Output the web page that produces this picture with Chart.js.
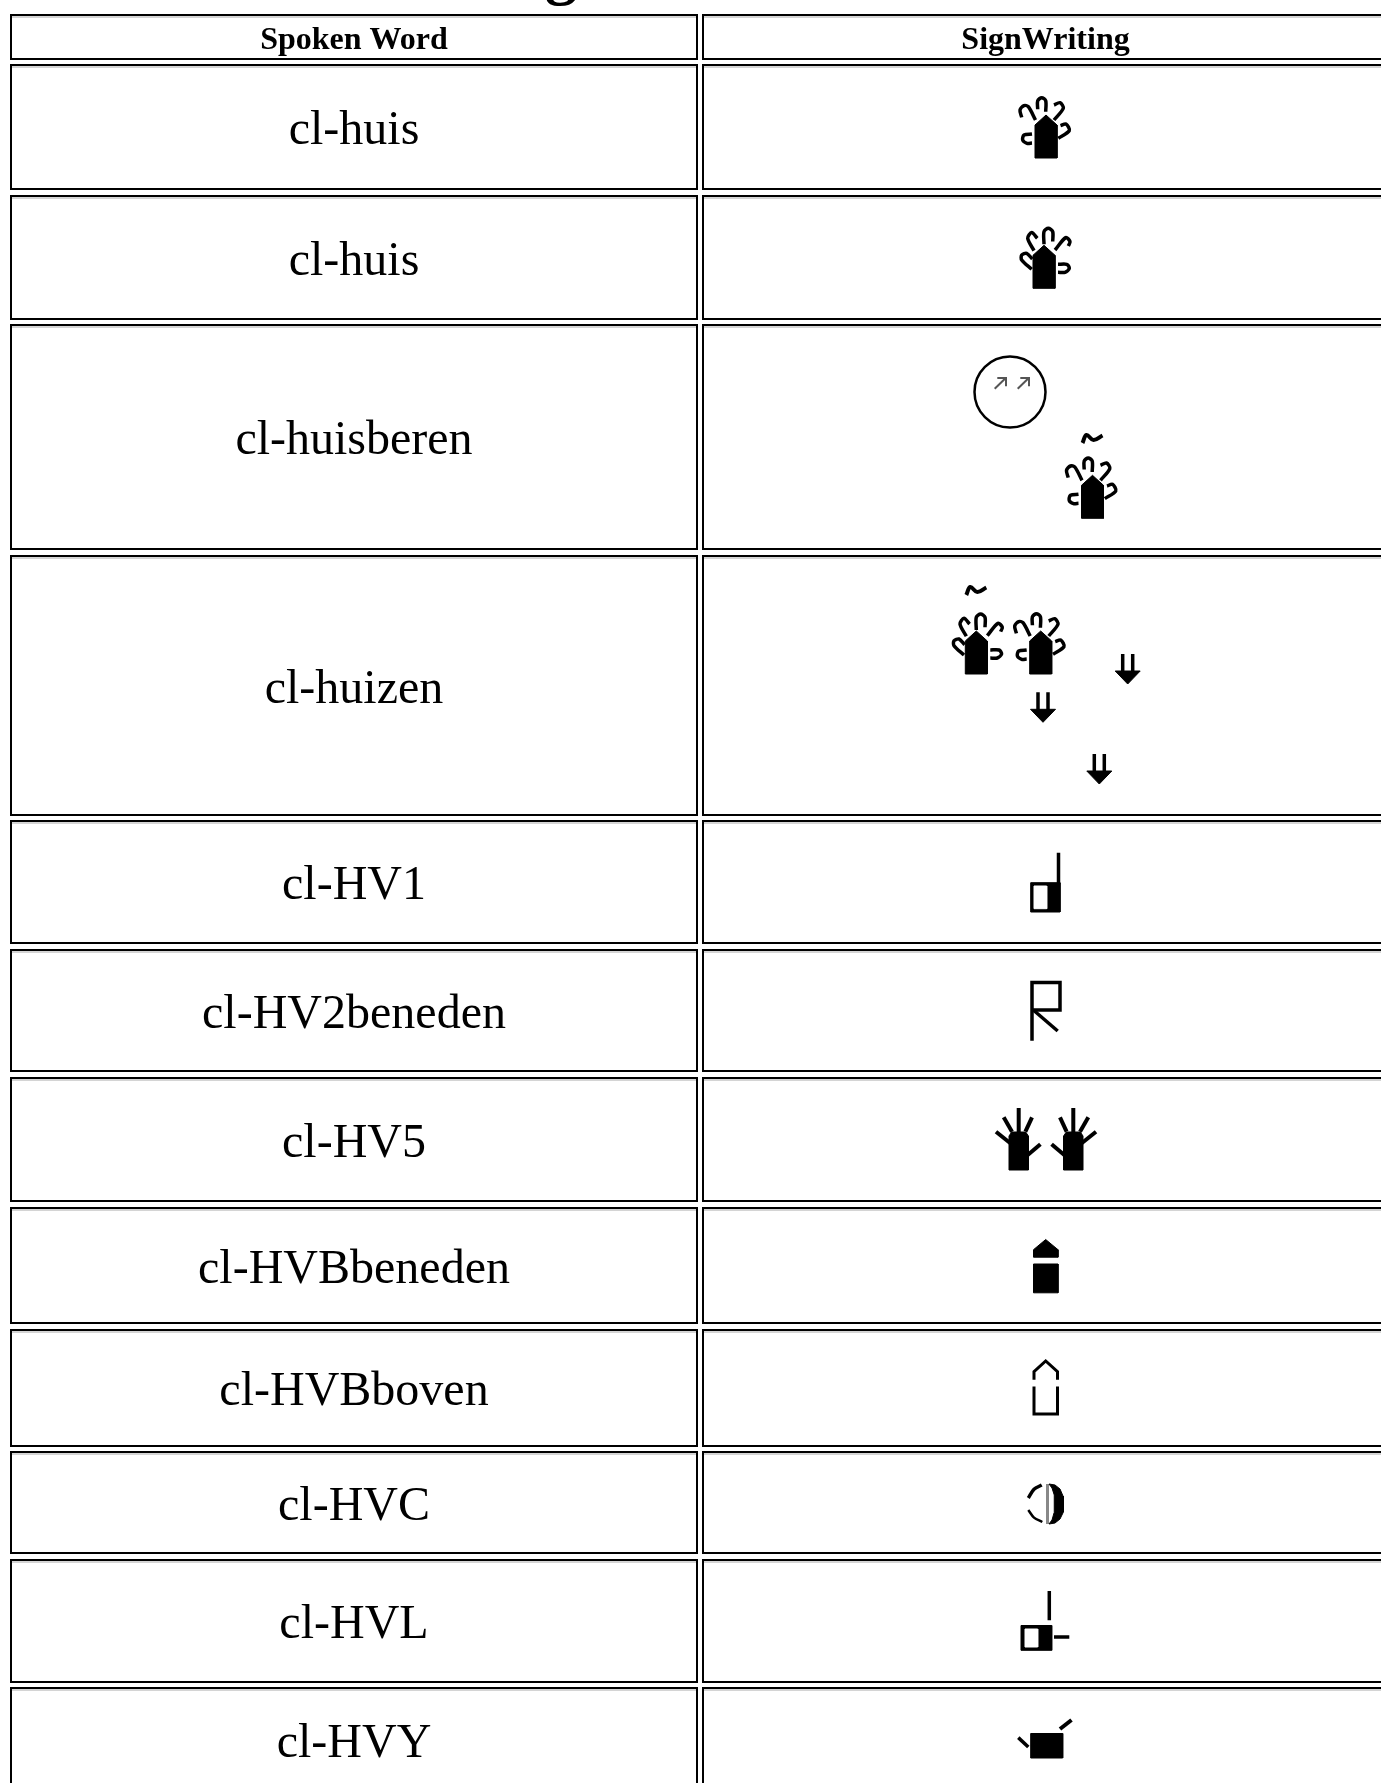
<!DOCTYPE html>
<html>
<head>
<meta charset="utf-8">
<title>SignWriting</title>
<style>
  html, body { margin: 0; padding: 0; background: #fff; overflow: hidden; }
  canvas { display: block; }
</style>
<script src="https://cdn.jsdelivr.net/npm/chart.js@4/dist/chart.umd.min.js"></script>
</head>
<body>
<canvas id="tableChart" width="1381" height="1783"></canvas>
<script>
// table content
const columnHeaders = ["Spoken Word", "SignWriting"];
const spokenWords = ["cl-huis", "cl-huis", "cl-huisberen", "cl-huizen", "cl-HV1", "cl-HV2beneden", "cl-HV5", "cl-HVBbeneden", "cl-HVBboven", "cl-HVC", "cl-HVL", "cl-HVY"];
const rowTops = [15, 65, 196, 325, 556, 821, 950, 1078, 1208, 1330, 1452, 1560, 1688];
const rowBottoms = [59, 189, 319, 549, 815, 943, 1071, 1201, 1323, 1446, 1553, 1682, 1792];
const columnLefts = [11, 703];
const columnRights = [697, 1395];

const BLACK = "#000";
const datasets = [];

function pts(list, ox, oy, flip) {
    return list.map(function (p) {
        return { x: (ox || 0) + (flip ? -p[0] : p[0]), y: (oy || 0) + p[1] };
    });
}

function stroke(list, width, opts) {
    opts = opts || {};
    datasets.push({
        data: pts(list, opts.ox, opts.oy, opts.flip),
        showLine: true,
        borderColor: opts.color || BLACK,
        borderWidth: width,
        borderCapStyle: "butt",
        borderJoinStyle: "miter",
        tension: opts.tension || 0,
        pointRadius: 0,
        fill: false
    });
}

function filled(list, color, opts) {
    opts = opts || {};
    datasets.push({
        data: pts(list.concat([list[0]]), opts.ox, opts.oy, opts.flip),
        showLine: true,
        borderColor: color,
        borderWidth: 1,
        backgroundColor: color,
        tension: 0,
        pointRadius: 0,
        fill: "shape"
    });
}

// table cells
rowTops.forEach(function (top, i) {
    const bottom = rowBottoms[i];
    columnLefts.forEach(function (left, c) {
        const right = columnRights[c];
        stroke([[left + 1, top + 2], [right - 1, top + 2]], 1, { color: "#aaa" });
        stroke([[left, top], [right, top], [right, bottom], [left, bottom], [left, top - 1]], 2);
    });
});

// shapes of the glyphs, origin at the bottom centre of the palm
const palm = [[-11, 0], [-11, -33], [0, -43], [11, -33], [11, 0]];
const handACurls = [
    [[-10.5, -38], [-17.7, -51.3], [-22, -52.3], [-26, -48], [-24.3, -40.7]],
    [[-0.3, -46.3], [-0.3, -57.3], [-4.3, -60.3], [-8.3, -57.3], [-8.3, -48.7]],
    [[8, -38], [17.3, -49.7], [14, -55.3], [8, -53]],
    [[12.3, -19.7], [23.3, -27.3], [20, -34], [14.5, -32.3]],
    [[-14, -24], [-22, -23], [-23.3, -18], [-19, -14.7], [-14, -15]]
];
const handBCurls = [
    [[-10, -37.7], [-16.3, -50], [-12.3, -55.7], [-6.7, -50]],
    [[0, -44], [0, -56.7], [4.3, -60], [8.7, -56.7], [8.7, -46.7]],
    [[11, -38.3], [21.7, -50.7], [26, -46.7], [24.3, -42.3]],
    [[-12.3, -19], [-22.3, -28.3], [-22.3, -33.3], [-17.3, -35], [-11.7, -29.3]],
    [[14, -24], [22.7, -24], [25.3, -20], [21, -16], [14, -16]]
];
const openHand = [
    [[0, -62], [0, -36]],
    [[-15, -52.7], [-6.7, -38.3]],
    [[13.3, -52.7], [6.7, -38.3]],
    [[-22.7, -38.3], [-8.3, -26.7]],
    [[21.7, -25.7], [9, -15]]
];
const openPalm = [[-9.7, 0], [-9.7, -34], [-7, -38], [7, -38], [9.7, -34], [9.7, 0]];
const tildeLine = [[-10, 4], [-6, -4], [1, 1], [10, -3.5]];

function curlyHand(curls, ox, oy) {
    filled(palm, BLACK, { ox: ox, oy: oy });
    curls.forEach(function (c) {
        stroke(c, 3.5, { ox: ox, oy: oy, tension: 0.3 });
    });
}

function fiveHand(ox, oy, flip) {
    filled(openPalm, BLACK, { ox: ox, oy: oy, flip: flip });
    openHand.forEach(function (f) {
        stroke(f, 4, { ox: ox, oy: oy, flip: flip });
    });
}

function tilde(ox, oy) {
    stroke(tildeLine, 4, { ox: ox, oy: oy, tension: 0.4 });
}

function downArrow(ox, oy) {
    stroke([[-5, -30], [-5, -12]], 3.5, { ox: ox, oy: oy });
    stroke([[5, -30], [5, -12]], 3.5, { ox: ox, oy: oy });
    filled([[-12.5, -13], [12.5, -13], [0, 0]], BLACK, { ox: ox, oy: oy });
}

function smallArrow(ox, oy) {
    stroke([[-15.3, -3.3], [-5, -13.3]], 2, { ox: ox, oy: oy, color: "#555" });
    stroke([[-12.7, -14], [-4, -14], [-4, -5.7]], 2, { ox: ox, oy: oy, color: "#555" });
}

// SignWriting column, row by row
curlyHand(handACurls, 1046, 158);
curlyHand(handBCurls, 1044, 288.3);

datasets.push({
    data: [{ x: 1010, y: 392 }],
    showLine: false,
    pointRadius: 35.5,
    pointBorderWidth: 2.5,
    pointBorderColor: BLACK,
    pointBackgroundColor: "#fff"
});
smallArrow(1010, 392);
smallArrow(1033, 392);
tilde(1092.5, 439);
curlyHand(handACurls, 1092.5, 518.3);

tilde(976.3, 591);
curlyHand(handBCurls, 976.3, 674);
curlyHand(handACurls, 1040.7, 674);
downArrow(1127.7, 684);
downArrow(1043, 722.3);
downArrow(1099.3, 784);

filled([[1030.7, 882.7], [1060, 882.7], [1060, 912], [1030.7, 912]], BLACK);
filled([[1034, 886], [1046.7, 886], [1046.7, 908.7], [1034, 908.7]], "#fff");
stroke([[1058.5, 852.7], [1058.5, 884]], 3.5);

stroke([[1032, 1040.7], [1032, 982.5], [1060, 982.5], [1060, 1010], [1032, 1010]], 3.5);
stroke([[1033.3, 1010], [1057.7, 1031]], 3.5);

fiveHand(1018.7, 1170, false);
fiveHand(1073.3, 1170, true);

filled([[1033.5, 1257.2], [1033.5, 1249.7], [1045.7, 1239.5], [1058, 1249.7], [1058, 1257.2]], BLACK);
filled([[1033.5, 1264], [1058, 1264], [1058, 1292.8], [1033.5, 1292.8]], BLACK);

stroke([[1034, 1379.7], [1034, 1371.7], [1045.7, 1361], [1057.5, 1371.7], [1057.5, 1379.7]], 3);
stroke([[1034, 1386.6], [1034, 1414], [1057.5, 1414], [1057.5, 1386.6]], 3);

stroke([[1047.5, 1484], [1047.5, 1524]], 3, { color: "#888" });
filled([[1049, 1484], [1055, 1485], [1060, 1489], [1063, 1496], [1063.8, 1504], [1063, 1512], [1060, 1519], [1055, 1523], [1049, 1524], [1052, 1520], [1054, 1513], [1054.5, 1504], [1054, 1495], [1052, 1488]], BLACK);
stroke([[1041.7, 1485], [1034, 1489.3], [1028.3, 1498]], 3.5, { tension: 0.3 });
stroke([[1028.3, 1510], [1034, 1517.6], [1042.3, 1522]], 2.5, { tension: 0.3 });

filled([[1021, 1625.5], [1051.7, 1625.5], [1051.7, 1650.3], [1021, 1650.3]], BLACK);
filled([[1025, 1629], [1037.7, 1629], [1037.7, 1647], [1025, 1647]], "#fff");
stroke([[1049.3, 1591], [1049.3, 1620.3]], 3.5);
stroke([[1054, 1637], [1069.3, 1637]], 3.5);

filled([[1030.7, 1733.5], [1062.7, 1733.5], [1062.7, 1758], [1030.7, 1758]], BLACK);
stroke([[1060, 1729], [1071.5, 1720]], 4);
stroke([[1018.3, 1737.6], [1028.3, 1747]], 3.5);

// first dataset is drawn on top in Chart.js, we want page order
datasets.reverse();

const tableText = {
    id: "tableText",
    afterDraw: function (chart) {
        const ctx = chart.ctx;
        const x = chart.scales.x;
        const y = chart.scales.y;
        ctx.save();
        ctx.fillStyle = BLACK;
        ctx.textAlign = "center";
        ctx.textBaseline = "alphabetic";

        // tail of the page heading, the rest is cut off above the picture
        ctx.font = "bold 64px 'Liberation Serif'";
        ctx.fillText("g", x.getPixelForValue(561), y.getPixelForValue(-8));

        ctx.font = "bold 32px 'Liberation Serif'";
        columnHeaders.forEach(function (h, c) {
            const mid = (columnLefts[c] + Math.min(columnRights[c], 1388)) / 2;
            ctx.fillText(h, x.getPixelForValue(mid), y.getPixelForValue(49));
        });

        ctx.font = "48px 'Liberation Serif'";
        spokenWords.forEach(function (w, i) {
            const mid = (rowTops[i + 1] + rowBottoms[i + 1]) / 2;
            ctx.fillText(w, x.getPixelForValue(354), y.getPixelForValue(mid + 17));
        });
        ctx.restore();
    }
};

new Chart(document.getElementById("tableChart"), {
    type: "scatter",
    data: { datasets: datasets },
    options: {
        responsive: false,
        animation: false,
        layout: { padding: 0, autoPadding: false },
        plugins: { legend: { display: false }, tooltip: { enabled: false } },
        scales: {
            x: { type: "linear", min: 0, max: 1381, display: false },
            y: { type: "linear", min: 0, max: 1783, reverse: true, display: false }
        }
    },
    plugins: [tableText]
});
</script>
</body>
</html>
